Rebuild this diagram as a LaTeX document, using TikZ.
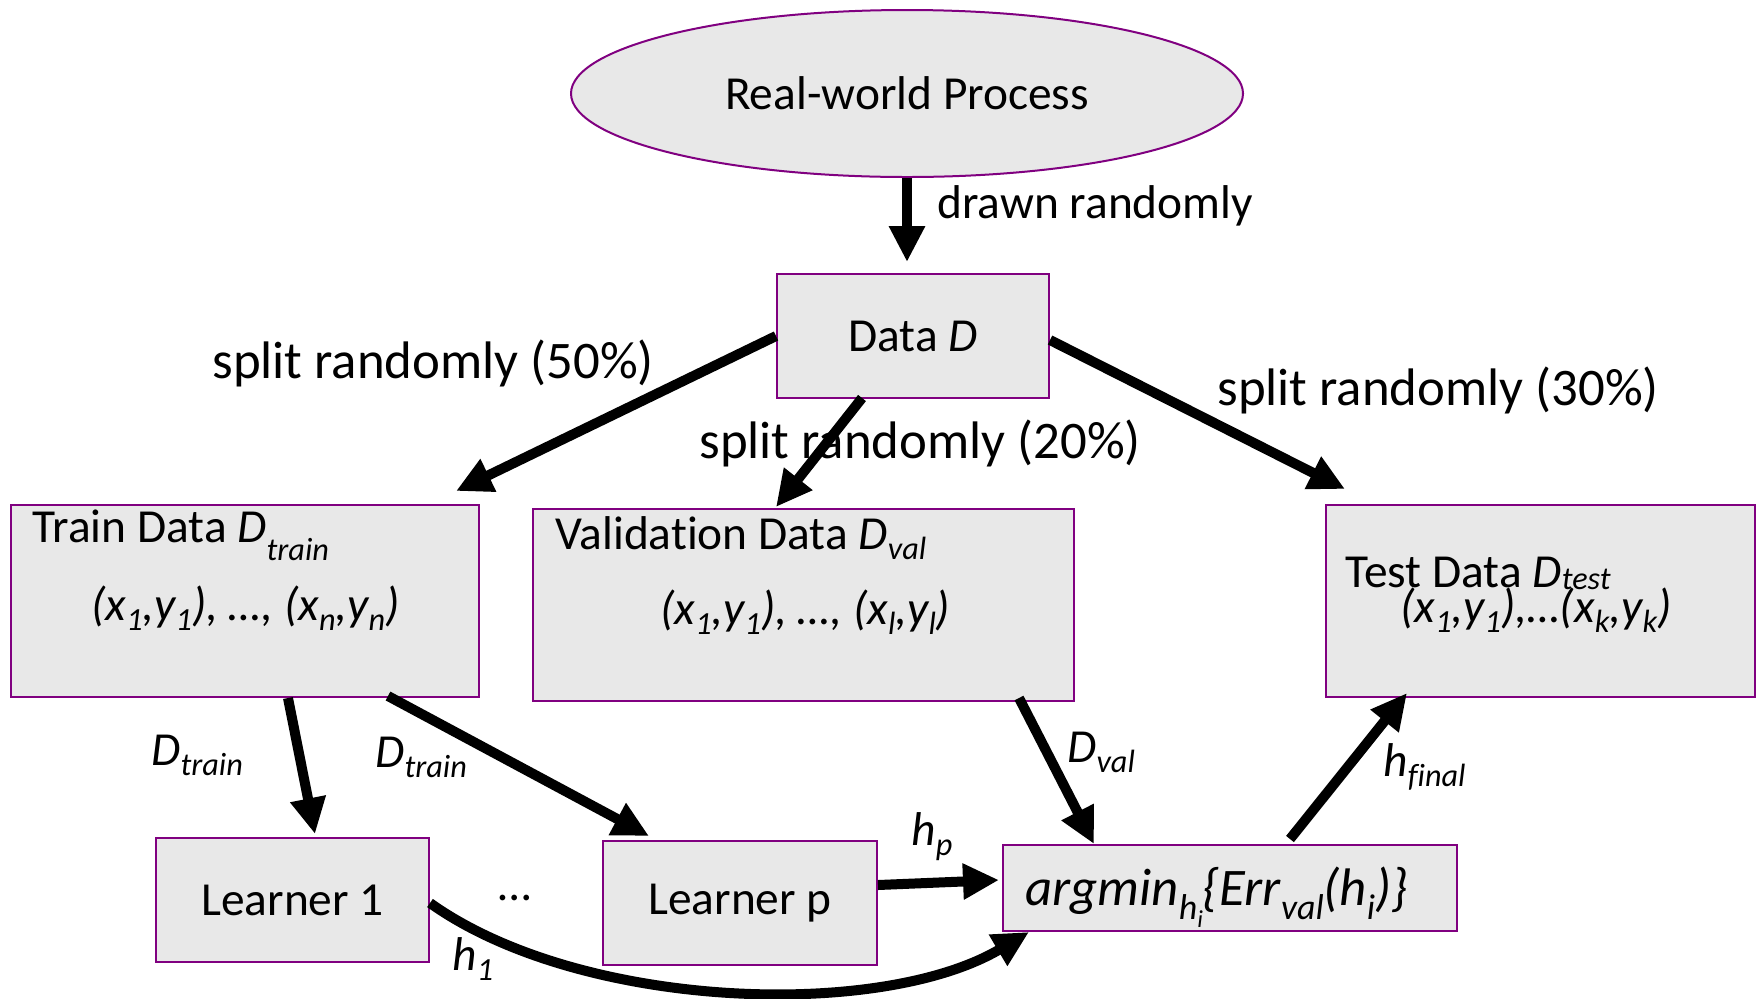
\documentclass[tikz,border=0pt]{standalone}
\usepackage{fontspec}
\usepackage{graphicx}
\setmainfont{Carlito}[Ligatures={NoCommon,NoContextual}]
\usetikzlibrary{shapes.geometric,arrows.meta}
\definecolor{boxpurple}{HTML}{800080}
\definecolor{boxgray}{HTML}{E8E8E8}
\newcommand\lo[2][0.22em]{\raisebox{-#1}{\scalebox{0.68}{#2}}}
\tikzset{
  box/.style={draw=boxpurple, line width=1pt, fill=boxgray, inner sep=0pt,
    font=\fontsize{23.7pt}{28pt}\selectfont},
  arr/.style={line width=5pt, -{Triangle[length=18pt,width=17pt]}},
  lbl/.style={anchor=base west, inner sep=0pt, font=\fontsize{23.7pt}{28pt}\selectfont},
  big/.style={anchor=base west, inner sep=0pt, font=\fontsize{26.4pt}{31pt}\selectfont},
}
\begin{document}
\begin{tikzpicture}[x=0.5pt,y=-0.5pt]
\useasboundingbox (0,0) rectangle (1759,998);
% nodes
\node[box, ellipse, minimum width=336pt, minimum height=83.5pt] (proc) at (907,93.5) {Real-world Process};
\node[box, minimum width=136pt, minimum height=62pt] (data) at (913,336) {Data \textit{D}};
\node[box, minimum width=234pt, minimum height=96pt] (train) at (245,601) {};
\node[box, minimum width=270.5pt, minimum height=96pt] (val) at (803.5,605) {};
\node[box, minimum width=214.5pt, minimum height=96pt] (test) at (1540.5,601) {};
\node[box, minimum width=136.5pt, minimum height=62pt] (l1) at (292.5,900) {Learner 1};
\node[box, minimum width=137pt, minimum height=62pt] (lp) at (740,903) {Learner p};
\node[box, minimum width=227pt, minimum height=43pt] (arg) at (1230,888) {};
% box texts
\node[lbl] (traint) at (32,542) {Train Data \textit{D\lo[0.4em]{train}}};
\node[lbl] (traind) at (91,620) {\textit{(x\lo{1},y\lo{1}), …, (x\lo{n},y\lo{n})}};
\node[lbl] (valt) at (555,549) {Validat\kern0pt ion Data \textit{D\lo{val}}};
\node[lbl] (vald) at (660,624) {\textit{(x\lo{1},y\lo{1}), …, (x\lo{l},y\lo{l})}};
\node[lbl] (testt) at (1345,587) {Test Data \textit{D\lo[0.05em]{test}}};
\node[lbl] (testd) at (1400,622) {\textit{(x\lo{1},y\lo{1}),…(x\lo{k},y\lo{k})}};
\node[big] (argt) at (1025,905) {\textit{argmin\lo[0.28em]{h\lo{i}}\{Err\lo[0.28em]{val}(h\lo[0.28em]{i})\}}};
% labels
\node[lbl] (drawn) at (937,218) {drawn randomly};
\node[big] (s50) at (212,378) {split randomly (50\%)};
\node[big] (s20) at (699,458) {split randomly (20\%)};
\node[big] (s30) at (1217,405) {split randomly (30\%)};
\node[lbl] (dtr1) at (151,765) {\textit{D\lo{train}}};
\node[lbl] (dtr2) at (375,767) {\textit{D\lo{train}}};
\node[lbl] (dval) at (1067,762) {\textit{D\lo{val}}};
\node[lbl] (hfin) at (1383,776) {\textit{h\lo{f\kern0pt inal}}};
\node[lbl] (hp) at (911,845) {\textit{h\lo{p}}};
\node[lbl] (h1) at (452,970) {\textit{h\lo{1}}};
\node[lbl] (dots) at (498,900) {…};
% connectors
\draw[arr, shorten >=5.5pt] (proc.south) -- (proc.south |- data.north);
\draw[arr] (data.west) -- ([xshift=-12pt,yshift=6.5pt]train.north east);
\draw[arr] ([xshift=-25.5pt,yshift=0.5pt]data.south) -- ([xshift=122pt,yshift=0.5pt]val.north west);
\draw[arr] ([yshift=-2pt]data.east) -- ([xshift=10pt,yshift=7.5pt]test.north west);
\draw[arr] ([xshift=21.5pt]train.south) -- ([xshift=11.25pt,yshift=1.5pt]l1.north);
\draw[arr] ([xshift=-46pt,yshift=1pt]train.south east) -- ([xshift=23.5pt,yshift=2pt]lp.north west);
\draw[arr] ([xshift=-28pt,yshift=2pt]val.south east) -- ([xshift=46pt]arg.north west);
\draw[arr] ([xshift=30pt,yshift=2.5pt]arg.north) -- ([xshift=41pt,yshift=2.5pt]test.south west);
\draw[arr] ([yshift=9pt]lp.east) -- ([xshift=-1.5pt,yshift=4pt]arg.west);
\draw[arr] ([yshift=-1.5pt]l1.east) .. controls (580,1010) and (880,1020) .. ([xshift=13.5pt]arg.south west);
\end{tikzpicture}
\end{document}
